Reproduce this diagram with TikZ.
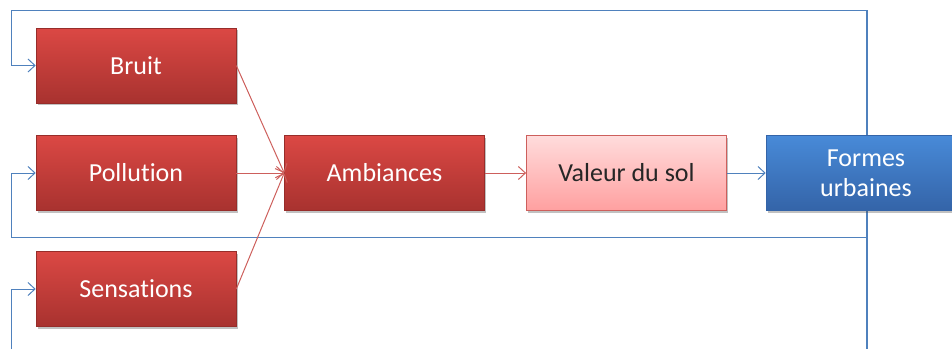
\documentclass[tikz,border=0pt]{standalone}
\usepackage{fontspec}
\setmainfont{Carlito}[Ligatures=NoCommon]
\usetikzlibrary{arrows.meta,shadows,backgrounds}
\definecolor{redtop}{RGB}{219,72,68}
\definecolor{redbot}{RGB}{168,50,47}
\definecolor{redline}{RGB}{205,95,92}
\definecolor{pinktop}{RGB}{255,220,220}
\definecolor{pinkbot}{RGB}{255,160,160}
\definecolor{bluetop}{RGB}{72,138,216}
\definecolor{bluebot}{RGB}{52,100,168}
\definecolor{blueline}{RGB}{79,129,189}
\tikzset{
  boxbase/.style={rectangle, minimum width=200pt, minimum height=75pt, inner sep=0pt,
    font=\fontsize{26}{30}\selectfont, align=center,
    drop shadow={shadow xshift=1.5pt, shadow yshift=-2pt, opacity=0.35, fill=black!70}},
  redbox/.style={boxbase, top color=redtop, bottom color=redbot, draw=redbot!90!black, line width=0.6pt, text=white},
  pinkbox/.style={boxbase, top color=pinktop, bottom color=pinkbot, draw=redline, line width=0.8pt, text=black!85},
  bluebox/.style={boxbase, top color=bluetop, bottom color=bluebot, draw=bluebot, line width=0.6pt, text=white},
  redarrow/.style={draw=redline, line width=1pt, -{Straight Barb[length=7pt,width=13pt]}},
  bluearrow/.style={draw=blueline, line width=1pt, -{Straight Barb[length=7pt,width=13pt]}},
  blueplain/.style={draw=blueline, line width=1.1pt},
}
\begin{document}
\begin{tikzpicture}[x=1pt,y=1pt]
\path[use as bounding box, clip] (0,0) rectangle (952,-349);
\node[redbox] (bruit) at (136,-65.5) {Bruit};
\node[redbox] (pollution) at (136,-173) {Pollution};
\node[redbox] (sensations) at (136,-289) {Sensations};
\node[redbox] (ambiances) at (384.5,-173) {Ambiances};
\node[pinkbox] (valeur) at (626.5,-173) {Valeur du sol};
\node[bluebox] (formes) at (866,-173) {Formes\\urbaines};
\coordinate (tr) at (867,-10);
\coordinate (tl) at (11,-10);
\coordinate (mr) at (867,-237);
\coordinate (ml) at (11,-237);
\coordinate (br) at (867,-349);
\coordinate (bl) at (11,-349);
\begin{scope}[on background layer]
\draw[blueplain] (tr) -- (br);
\end{scope}
\draw[bluearrow] (tr) -- (tl) |- (bruit.west);
\draw[bluearrow] (mr) -- (ml) |- (pollution.west);
\draw[bluearrow] (bl) |- (sensations.west);
\draw[redarrow] (bruit.east) -- (ambiances.west);
\draw[redarrow] (pollution.east) -- (ambiances.west);
\draw[redarrow] (sensations.east) -- (ambiances.west);
\draw[redarrow] (ambiances.east) -- (valeur.west);
\draw[bluearrow] (valeur.east) -- (formes.west);
\end{tikzpicture}
\end{document}
